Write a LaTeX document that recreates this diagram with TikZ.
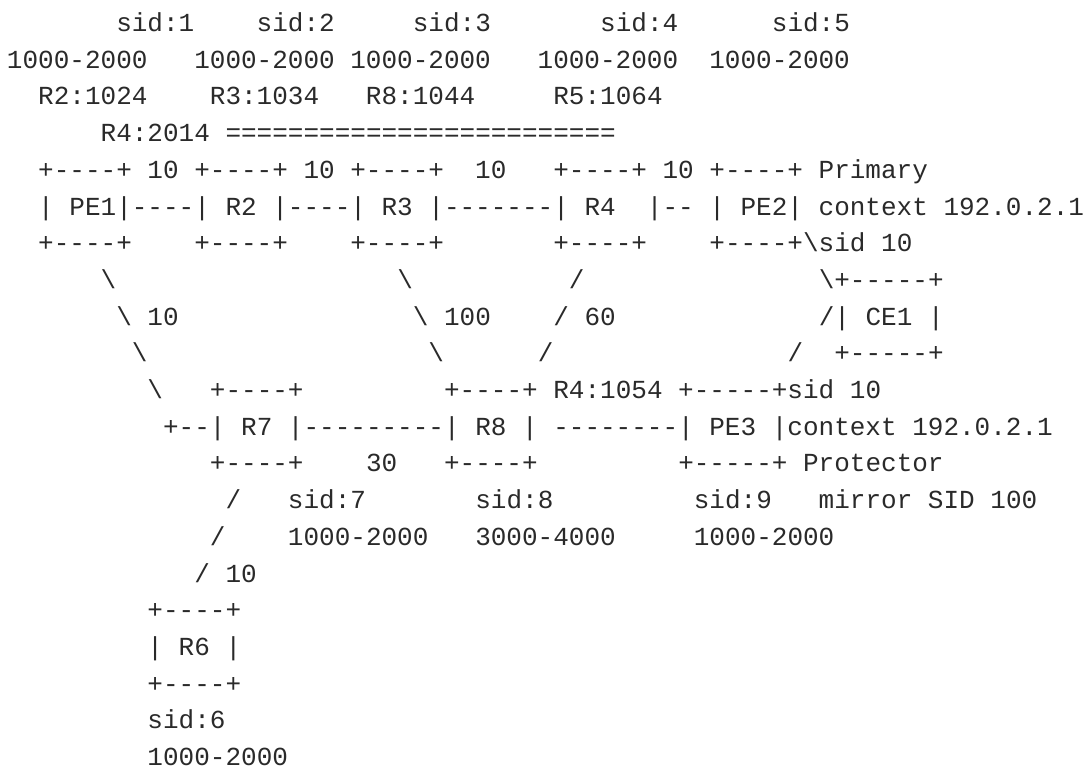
\documentclass[tikz,border=0pt]{standalone}
\usepackage{fontspec}
\setmonofont{Liberation Mono}[Ligatures=TeXOff]
\definecolor{ink}{HTML}{2A2A2A}
\newlength\cw
\setlength\cw{11.708pt}
\newcommand\gp[1]{\hspace*{\dimexpr\cw*#1\relax}}
\newcommand\bs{\textbackslash}
\begin{document}
\begin{tikzpicture}[x=0.75pt,y=-0.75pt,
  tl/.style={anchor=base west, inner sep=0pt, outer sep=0pt,
    font=\ttfamily\fontsize{19.51}{23}\selectfont, text=ink}]
\fill[white] (0,0) rectangle (1087,771);
\useasboundingbox (0,0) rectangle (1087,771);
\def\xo{7}
\node[tl] (l1)  at (\xo,31.5)  {\gp{7}sid:1\gp{4}sid:2\gp{5}sid:3\gp{7}sid:4\gp{6}sid:5};
\node[tl] (l2)  at (\xo,68.2)  {1000-2000\gp{3}1000-2000\gp{1}1000-2000\gp{3}1000-2000\gp{2}1000-2000};
\node[tl] (l3)  at (\xo,104.9) {\gp{2}R2:1024\gp{4}R3:1034\gp{3}R8:1044\gp{5}R5:1064};
\node[tl] (l4)  at (\xo,141.6) {\gp{6}R4:2014\gp{1}=========================};
\node[tl] (l5)  at (\xo,178.3) {\gp{2}+----+\gp{1}10\gp{1}+----+\gp{1}10\gp{1}+----+\gp{2}10\gp{3}+----+\gp{1}10\gp{1}+----+\gp{1}Primary};
\node[tl] (l6)  at (\xo,215.0) {\gp{2}|\gp{1}PE1|----|\gp{1}R2\gp{1}|----|\gp{1}R3\gp{1}|-------|\gp{1}R4\gp{2}|--\gp{1}|\gp{1}PE2|\gp{1}context\gp{1}192.0.2.1};
\node[tl] (l7)  at (\xo,251.7) {\gp{2}+----+\gp{4}+----+\gp{4}+----+\gp{7}+----+\gp{4}+----+\bs sid\gp{1}10};
\node[tl] (l8)  at (\xo,288.4) {\gp{6}\bs\gp{18}\bs\gp{10}/\gp{15}\bs+-----+};
\node[tl] (l9)  at (\xo,325.1) {\gp{7}\bs\gp{1}10\gp{15}\bs\gp{1}100\gp{4}/\gp{1}60\gp{13}/|\gp{1}CE1\gp{1}|};
\node[tl] (l10) at (\xo,361.8) {\gp{8}\bs\gp{18}\bs\gp{6}/\gp{15}/\gp{2}+-----+};
\node[tl] (l11) at (\xo,398.5) {\gp{9}\bs\gp{3}+----+\gp{9}+----+\gp{1}R4:1054\gp{1}+-----+sid\gp{1}10};
\node[tl] (l12) at (\xo,435.2) {\gp{10}+--|\gp{1}R7\gp{1}|---------|\gp{1}R8\gp{1}|\gp{1}--------|\gp{1}PE3\gp{1}|context\gp{1}192.0.2.1};
\node[tl] (l13) at (\xo,471.9) {\gp{13}+----+\gp{4}30\gp{3}+----+\gp{9}+-----+\gp{1}Protector};
\node[tl] (l14) at (\xo,508.6) {\gp{14}/\gp{3}sid:7\gp{7}sid:8\gp{9}sid:9\gp{3}mirror\gp{1}SID\gp{1}100};
\node[tl] (l15) at (\xo,545.3) {\gp{13}/\gp{4}1000-2000\gp{3}3000-4000\gp{5}1000-2000};
\node[tl] (l16) at (\xo,582.0) {\gp{12}/\gp{1}10};
\node[tl] (l17) at (\xo,618.7) {\gp{9}+----+};
\node[tl] (l18) at (\xo,655.4) {\gp{9}|\gp{1}R6\gp{1}|};
\node[tl] (l19) at (\xo,692.1) {\gp{9}+----+};
\node[tl] (l20) at (\xo,728.8) {\gp{9}sid:6};
\node[tl] (l21) at (\xo,765.5) {\gp{9}1000-2000};
\end{tikzpicture}
\end{document}
